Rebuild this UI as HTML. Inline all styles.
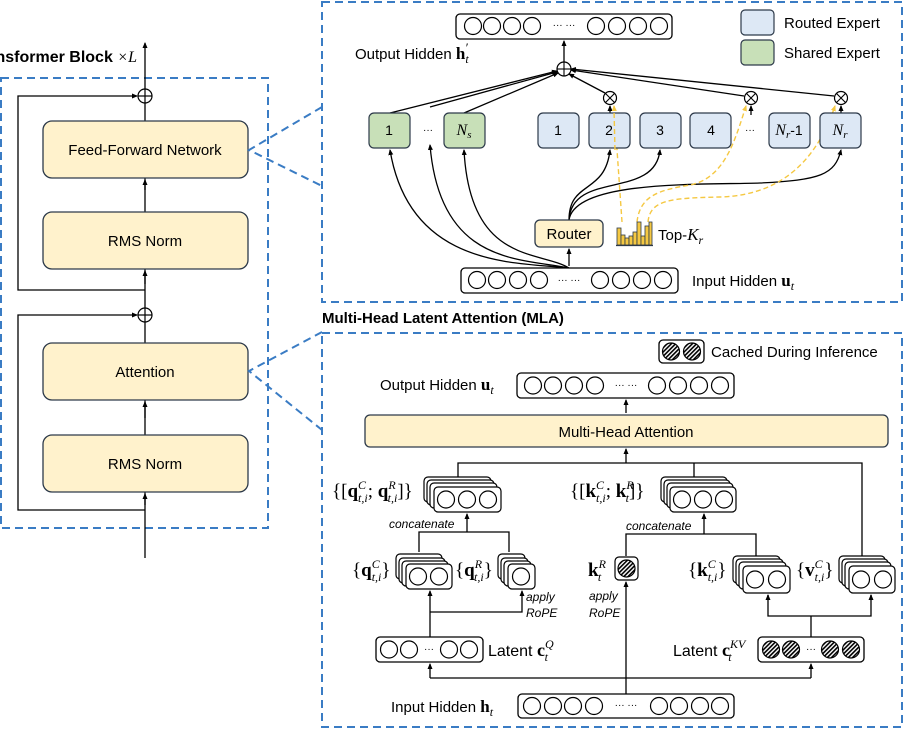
<!DOCTYPE html>
<html><head><meta charset="utf-8"><style>
body{margin:0;background:#fff}
svg{display:block;font-family:"Liberation Sans",sans-serif}
.s{font-family:"Liberation Serif",serif}
.i{font-style:italic}
</style></head><body>
<svg width="904" height="730" viewBox="0 0 904 730" xmlns="http://www.w3.org/2000/svg">
<defs>
<marker id="a" markerWidth="6" markerHeight="6" refX="5" refY="3" orient="auto" markerUnits="userSpaceOnUse"><path d="M0,0.5 L6,3 L0,5.5 z" fill="#000"/></marker>
<marker id="ay" markerWidth="6" markerHeight="6" refX="5" refY="3" orient="auto" markerUnits="userSpaceOnUse"><path d="M0,0.5 L6,3 L0,5.5 z" fill="#f5c842"/></marker>
<pattern id="h" width="3" height="3" patternUnits="userSpaceOnUse" patternTransform="rotate(45)"><rect width="3" height="3" fill="#fff"/><rect width="1.6" height="3" fill="#000"/></pattern>
<g id="c"><circle r="8.5" fill="#fff" stroke="#000" stroke-width="1.2"/></g>
<g id="hc"><circle r="8.5" fill="url(#h)" stroke="#000" stroke-width="1.2"/></g>
</defs>
<rect width="904" height="730" fill="#fff"/>

<!-- Left block -->
<rect x="1" y="78" width="267" height="450" fill="none" stroke="#3a7cc4" stroke-width="2" stroke-dasharray="8,5"/>
<text x="137" y="62" font-size="16" font-weight="bold" text-anchor="end">Transformer Block <tspan class="s i" font-weight="normal">×L</tspan></text>
<g stroke="#000" stroke-width="1.3" fill="none">
<line x1="145" y1="558" x2="145" y2="43" marker-end="url(#a)"/>
<polyline points="145,290 18,290 18,96 137,96" marker-end="url(#a)"/>
<polyline points="145,510 18,510 18,315 137,315" marker-end="url(#a)"/>
<line x1="145" y1="190" x2="145" y2="180" marker-end="url(#a)"/>
<line x1="145" y1="284" x2="145" y2="271" marker-end="url(#a)"/>
<line x1="145" y1="418" x2="145" y2="402" marker-end="url(#a)"/>
<line x1="145" y1="505" x2="145" y2="494" marker-end="url(#a)"/>
</g>
<g stroke="#000" stroke-width="1.2" fill="#fff"><circle cx="145" cy="96" r="7"/><circle cx="145" cy="315" r="7"/></g>
<g stroke="#000" stroke-width="1.2"><line x1="138" y1="96" x2="152" y2="96"/><line x1="145" y1="89" x2="145" y2="103"/><line x1="138" y1="315" x2="152" y2="315"/><line x1="145" y1="308" x2="145" y2="322"/></g>
<g fill="#fff2cc" stroke="#2d3a4a" stroke-width="1.3">
<rect x="43" y="121" width="205" height="57" rx="9"/>
<rect x="43" y="212" width="205" height="57" rx="9"/>
<rect x="43" y="343" width="205" height="57" rx="9"/>
<rect x="43" y="435" width="205" height="57" rx="9"/>
</g>
<g font-size="15" text-anchor="middle">
<text x="145" y="155">Feed-Forward Network</text>
<text x="145" y="246">RMS Norm</text>
<text x="145" y="377">Attention</text>
<text x="145" y="469">RMS Norm</text>
</g>
<g stroke="#3a7cc4" stroke-width="2" stroke-dasharray="8,5" fill="none">
<polyline points="322,107 249,150 322,186"/>
<polyline points="322,332 249,371 322,430"/>
<rect x="322" y="2" width="580" height="300"/>
<rect x="322" y="333" width="580" height="394"/>
</g>

<!-- MoE panel -->
<rect x="456" y="14" width="216" height="25" rx="4" fill="#fff" stroke="#000" stroke-width="1.3"/>
<use href="#c" x="473" y="26"/><use href="#c" x="492" y="26"/><use href="#c" x="512" y="26"/><use href="#c" x="532" y="26"/>
<use href="#c" x="596" y="26"/><use href="#c" x="617" y="26"/><use href="#c" x="638" y="26"/><use href="#c" x="659" y="26"/>
<text x="564" y="28" font-size="10" text-anchor="middle">··· ···</text>
<text x="355" y="59" font-size="15">Output Hidden <tspan class="s" font-weight="bold" font-size="17">h</tspan><tspan class="s i" font-size="12" dy="4">t</tspan><tspan class="s" font-size="13" dx="-3" dy="-11">′</tspan></text>
<rect x="741" y="10" width="33" height="25" rx="4" fill="#dde8f5" stroke="#2d3a4a" stroke-width="1.2"/>
<rect x="741" y="40" width="33" height="25" rx="4" fill="#c8e0b8" stroke="#2d3a4a" stroke-width="1.2"/>
<text x="784" y="28" font-size="15">Routed Expert</text>
<text x="784" y="58" font-size="15">Shared Expert</text>

<g stroke="#000" stroke-width="1.3" fill="none">
<line x1="564" y1="62" x2="564" y2="41" marker-end="url(#a)"/>
<line x1="390" y1="113" x2="557" y2="71" marker-end="url(#a)"/>
<line x1="430" y1="107" x2="557" y2="72" marker-end="url(#a)"/>
<line x1="464" y1="113" x2="558" y2="73" marker-end="url(#a)"/>
<line x1="605" y1="93" x2="569" y2="74" marker-end="url(#a)"/>
<line x1="744" y1="96" x2="571" y2="70" marker-end="url(#a)"/>
<line x1="834" y1="96" x2="571" y2="69" marker-end="url(#a)"/>
<line x1="610" y1="113" x2="610" y2="106" marker-end="url(#a)"/>
<line x1="751" y1="115" x2="751" y2="106" marker-end="url(#a)"/>
<line x1="841" y1="113" x2="841" y2="106" marker-end="url(#a)"/>
<path d="M569,268 C520,262 410,270 390,150" marker-end="url(#a)"/>
<path d="M569,268 C520,258 440,265 430,145" marker-end="url(#a)"/>
<path d="M569,268 C540,250 470,265 464,150" marker-end="url(#a)"/>
<line x1="569" y1="266" x2="569" y2="249" marker-end="url(#a)"/>
<path d="M569,220 C569,180 605,195 610,150" marker-end="url(#a)"/>
<path d="M569,220 C572,170 655,200 660,150" marker-end="url(#a)"/>
<path d="M569,220 C575,180 700,185 760,183 C820,180 835,175 841,150" marker-end="url(#a)"/>
</g>
<g stroke="#f5c842" stroke-width="1.4" fill="none" stroke-dasharray="5,3">
<path d="M622,222 L614,106" marker-end="url(#ay)"/>
<path d="M637,222 C640,195 660,190 690,185 C725,178 735,140 746,106" marker-end="url(#ay)"/>
<path d="M648,222 C650,200 670,198 720,197 C790,195 820,150 835,106" marker-end="url(#ay)"/>
</g>
<g stroke="#000" stroke-width="1.2" fill="#fff">
<circle cx="564" cy="69" r="7"/><circle cx="610" cy="98" r="6.5"/><circle cx="751" cy="98" r="6.5"/><circle cx="841" cy="98" r="6.5"/>
</g>
<g stroke="#000" stroke-width="1.1">
<line x1="557" y1="69" x2="571" y2="69"/><line x1="564" y1="62" x2="564" y2="76"/>
<line x1="605.4" y1="93.4" x2="614.6" y2="102.6"/><line x1="614.6" y1="93.4" x2="605.4" y2="102.6"/>
<line x1="746.4" y1="93.4" x2="755.6" y2="102.6"/><line x1="755.6" y1="93.4" x2="746.4" y2="102.6"/>
<line x1="836.4" y1="93.4" x2="845.6" y2="102.6"/><line x1="845.6" y1="93.4" x2="836.4" y2="102.6"/>
</g>
<g stroke="#2d3a4a" stroke-width="1.2">
<rect x="369" y="113" width="41" height="35" rx="5" fill="#c8e0b8"/>
<rect x="444" y="113" width="41" height="35" rx="5" fill="#c8e0b8"/>
<rect x="538" y="113" width="41" height="35" rx="5" fill="#dde8f5"/>
<rect x="589" y="113" width="41" height="35" rx="5" fill="#dde8f5"/>
<rect x="640" y="113" width="41" height="35" rx="5" fill="#dde8f5"/>
<rect x="690" y="113" width="41" height="35" rx="5" fill="#dde8f5"/>
<rect x="769" y="113" width="41" height="35" rx="5" fill="#dde8f5"/>
<rect x="820" y="113" width="41" height="35" rx="5" fill="#dde8f5"/>
</g>
<g stroke="#f5c842" stroke-width="1.4" fill="none" stroke-dasharray="5,3"><line x1="615" y1="150" x2="614" y2="110"/></g>
<g font-size="14" text-anchor="middle">
<text x="389" y="135">1</text><text x="428" y="133" font-size="10">···</text>
<text x="464" y="135" class="s i" font-size="16">N<tspan font-size="11" dy="3">s</tspan></text>
<text x="558" y="135">1</text><text x="609" y="135">2</text><text x="660" y="135">3</text><text x="711" y="135">4</text>
<text x="750" y="133" font-size="10">···</text>
<text x="789" y="135"><tspan class="s i" font-size="16">N<tspan font-size="11" dy="3">r</tspan></tspan><tspan dy="-3">-1</tspan></text>
<text x="840" y="135" class="s i" font-size="16">N<tspan font-size="11" dy="3">r</tspan></text>
</g>
<rect x="535" y="220" width="68" height="27" rx="5" fill="#fff2cc" stroke="#2d3a4a" stroke-width="1.3"/>
<text x="569" y="239" font-size="15" text-anchor="middle">Router</text>
<g fill="#f5c842" stroke="#2d3a4a" stroke-width="0.8">
<rect x="617" y="228" width="4" height="17"/><rect x="621" y="235" width="4" height="10"/><rect x="625" y="238" width="4" height="7"/><rect x="629" y="236" width="4" height="9"/><rect x="633" y="232" width="4" height="13"/><rect x="637" y="222" width="4" height="23"/><rect x="641" y="236" width="4" height="9"/><rect x="645" y="226" width="4" height="19"/><rect x="649" y="222" width="3" height="23"/>
</g>
<line x1="616" y1="245.5" x2="653" y2="245.5" stroke="#2d3a4a" stroke-width="1.2"/>
<text x="658" y="240" font-size="15">Top-<tspan class="s i" font-size="17">K</tspan><tspan class="s i" font-size="12" dy="4">r</tspan></text>
<rect x="461" y="268" width="217" height="25" rx="4" fill="#fff" stroke="#000" stroke-width="1.3"/>
<use href="#c" x="477" y="280"/><use href="#c" x="497" y="280"/><use href="#c" x="518" y="280"/><use href="#c" x="539" y="280"/>
<use href="#c" x="600" y="280"/><use href="#c" x="621" y="280"/><use href="#c" x="642" y="280"/><use href="#c" x="663" y="280"/>
<text x="569" y="283" font-size="10" text-anchor="middle">··· ···</text>
<text x="692" y="286" font-size="15">Input Hidden <tspan class="s" font-weight="bold" font-size="17">u</tspan><tspan class="s i" font-size="12" dy="4">t</tspan></text>

<text x="322" y="323" font-size="15" font-weight="bold">Multi-Head Latent Attention (MLA)</text>

<!-- MLA panel -->
<rect x="659" y="340" width="45" height="23" rx="4" fill="#fff" stroke="#000" stroke-width="1.3"/>
<use href="#hc" x="671" y="351.5"/><use href="#hc" x="692" y="351.5"/>
<text x="711" y="357" font-size="15">Cached During Inference</text>
<text x="380" y="390" font-size="15">Output Hidden <tspan class="s" font-weight="bold" font-size="17">u</tspan><tspan class="s i" font-size="12" dy="4">t</tspan></text>
<rect x="517" y="373" width="217" height="25" rx="4" fill="#fff" stroke="#000" stroke-width="1.3"/>
<use href="#c" x="533" y="385.5"/><use href="#c" x="553" y="385.5"/><use href="#c" x="574" y="385.5"/><use href="#c" x="595" y="385.5"/>
<use href="#c" x="657" y="385.5"/><use href="#c" x="678" y="385.5"/><use href="#c" x="699" y="385.5"/><use href="#c" x="720" y="385.5"/>
<text x="626" y="388" font-size="10" text-anchor="middle">··· ···</text>
<rect x="365" y="415" width="523" height="32" rx="5" fill="#fff2cc" stroke="#2d3a4a" stroke-width="1.3"/>
<text x="626" y="437" font-size="15" text-anchor="middle">Multi-Head Attention</text>

<g stroke="#000" stroke-width="1.3" fill="none">
<line x1="626" y1="413" x2="626" y2="400" marker-end="url(#a)"/>
<line x1="626" y1="463" x2="626" y2="449" marker-end="url(#a)"/>
<polyline points="458,477 458,463 862,463 862,556"/>
<line x1="694" y1="463" x2="694" y2="477"/>
<polyline points="419,552 419,532 509,532 509,552"/>
<line x1="467" y1="532" x2="467" y2="514" marker-end="url(#a)"/>
<line x1="430" y1="637" x2="430" y2="591" marker-end="url(#a)"/>
<polyline points="430,612 522,612 522,591" marker-end="url(#a)"/>
<polyline points="626,556 626,534 756,534 756,556"/>
<line x1="704" y1="534" x2="704" y2="514" marker-end="url(#a)"/>
<line x1="626" y1="694" x2="626" y2="582" marker-end="url(#a)"/>
<polyline points="430,678 811,678"/>
<line x1="430" y1="678" x2="430" y2="664" marker-end="url(#a)"/>
<line x1="811" y1="678" x2="811" y2="664" marker-end="url(#a)"/>
<line x1="811" y1="637" x2="811" y2="616"/>
<polyline points="768,595 768,616 871,616 871,595"/>
<line x1="768" y1="600" x2="768" y2="595" marker-end="url(#a)"/>
<line x1="871" y1="600" x2="871" y2="595" marker-end="url(#a)"/>
</g>

<g fill="#fff" stroke="#000" stroke-width="1.2">
<rect x="424" y="477" width="67" height="25" rx="4"/><rect x="427" y="480" width="67" height="25" rx="4"/><rect x="430" y="483" width="67" height="25" rx="4"/><rect x="434" y="487" width="67" height="25" rx="4"/>
<rect x="661" y="477" width="66" height="25" rx="4"/><rect x="664" y="480" width="66" height="25" rx="4"/><rect x="667" y="483" width="66" height="25" rx="4"/><rect x="670" y="487" width="66" height="25" rx="4"/>
<rect x="396" y="554" width="46" height="25" rx="4"/><rect x="399" y="558" width="46" height="25" rx="4"/><rect x="402" y="561" width="46" height="25" rx="4"/><rect x="406" y="564" width="46" height="25" rx="4"/>
<rect x="498" y="554" width="27" height="25" rx="4"/><rect x="501" y="558" width="27" height="25" rx="4"/><rect x="504" y="561" width="27" height="25" rx="4"/><rect x="508" y="564" width="27" height="25" rx="4"/>
<rect x="733" y="556" width="47" height="27" rx="4"/><rect x="736" y="559" width="47" height="27" rx="4"/><rect x="739" y="562" width="47" height="27" rx="4"/><rect x="743" y="566" width="47" height="27" rx="4"/>
<rect x="839" y="556" width="46" height="27" rx="4"/><rect x="842" y="559" width="46" height="27" rx="4"/><rect x="845" y="562" width="46" height="27" rx="4"/><rect x="849" y="566" width="46" height="27" rx="4"/>
<rect x="615" y="557" width="23" height="23" rx="4"/>
</g>
<use href="#c" x="446" y="499.5"/><use href="#c" x="467" y="499.5"/><use href="#c" x="488" y="499.5"/>
<use href="#c" x="682" y="499.5"/><use href="#c" x="703" y="499.5"/><use href="#c" x="724" y="499.5"/>
<use href="#c" x="418" y="576.5"/><use href="#c" x="439" y="576.5"/>
<use href="#c" x="521" y="576.5"/>
<use href="#c" x="755" y="579.5"/><use href="#c" x="777" y="579.5"/>
<use href="#c" x="861" y="579.5"/><use href="#c" x="883" y="579.5"/>
<use href="#hc" x="626.5" y="568.5"/>

<g class="s" font-size="19">
<text x="332" y="497">{[<tspan font-weight="bold">q</tspan><tspan class="i" font-size="12" dy="-8">C</tspan><tspan class="i" font-size="12" dx="-8" dy="13">t,i</tspan><tspan dy="-5">; </tspan><tspan font-weight="bold">q</tspan><tspan class="i" font-size="12" dy="-8">R</tspan><tspan class="i" font-size="12" dx="-8" dy="13">t,i</tspan><tspan dy="-5">]}</tspan></text>
<text x="570" y="497">{[<tspan font-weight="bold">k</tspan><tspan class="i" font-size="12" dy="-8">C</tspan><tspan class="i" font-size="12" dx="-8" dy="13">t,i</tspan><tspan dy="-5">; </tspan><tspan font-weight="bold">k</tspan><tspan class="i" font-size="12" dy="-8">R</tspan><tspan class="i" font-size="12" dx="-8" dy="13">t</tspan><tspan dy="-5">]}</tspan></text>
<text x="352" y="576">{<tspan font-weight="bold">q</tspan><tspan class="i" font-size="12" dy="-8">C</tspan><tspan class="i" font-size="12" dx="-8" dy="13">t,i</tspan><tspan dy="-5">}</tspan></text>
<text x="455" y="576">{<tspan font-weight="bold">q</tspan><tspan class="i" font-size="12" dy="-8">R</tspan><tspan class="i" font-size="12" dx="-8" dy="13">t,i</tspan><tspan dy="-5">}</tspan></text>
<text x="588" y="576"><tspan font-weight="bold">k</tspan><tspan class="i" font-size="12" dy="-8">R</tspan><tspan class="i" font-size="12" dx="-8" dy="13">t</tspan></text>
<text x="688" y="576">{<tspan font-weight="bold">k</tspan><tspan class="i" font-size="12" dy="-8">C</tspan><tspan class="i" font-size="12" dx="-8" dy="13">t,i</tspan><tspan dy="-5">}</tspan></text>
<text x="796" y="576">{<tspan font-weight="bold">v</tspan><tspan class="i" font-size="12" dy="-8">C</tspan><tspan class="i" font-size="12" dx="-8" dy="13">t,i</tspan><tspan dy="-5">}</tspan></text>
</g>
<g font-size="12" class="i">
<text x="389" y="528">concatenate</text>
<text x="626" y="530">concatenate</text>
<text x="526" y="601">apply</text><text x="526" y="617">RoPE</text>
<text x="589" y="600">apply</text><text x="589" y="617">RoPE</text>
</g>

<rect x="376" y="637" width="107" height="25" rx="4" fill="#fff" stroke="#000" stroke-width="1.3"/>
<use href="#c" x="389" y="649.5"/><use href="#c" x="409" y="649.5"/><use href="#c" x="449" y="649.5"/><use href="#c" x="469" y="649.5"/>
<text x="429" y="652" font-size="10" text-anchor="middle">···</text>
<text x="488" y="656" font-size="16">Latent <tspan class="s" font-weight="bold" font-size="18">c</tspan><tspan class="s i" font-size="12" dy="-8">Q</tspan><tspan class="s i" font-size="12" dx="-9" dy="13">t</tspan></text>
<rect x="758" y="637" width="106" height="25" rx="4" fill="#fff" stroke="#000" stroke-width="1.3"/>
<use href="#hc" x="771" y="649.5"/><use href="#hc" x="791" y="649.5"/><use href="#hc" x="830" y="649.5"/><use href="#hc" x="851" y="649.5"/>
<text x="811" y="652" font-size="10" text-anchor="middle">···</text>
<text x="673" y="656" font-size="16">Latent <tspan class="s" font-weight="bold" font-size="18">c</tspan><tspan class="s i" font-size="12" dy="-8">KV</tspan><tspan class="s i" font-size="12" dx="-17" dy="13">t</tspan></text>
<rect x="518" y="694" width="216" height="24" rx="4" fill="#fff" stroke="#000" stroke-width="1.3"/>
<use href="#c" x="532" y="706"/><use href="#c" x="553" y="706"/><use href="#c" x="573" y="706"/><use href="#c" x="594" y="706"/>
<use href="#c" x="659" y="706"/><use href="#c" x="679" y="706"/><use href="#c" x="700" y="706"/><use href="#c" x="720" y="706"/>
<text x="626" y="708" font-size="10" text-anchor="middle">··· ···</text>
<text x="391" y="712" font-size="15">Input Hidden <tspan class="s" font-weight="bold" font-size="17">h</tspan><tspan class="s i" font-size="12" dy="4">t</tspan></text>
</svg>
</body></html>
